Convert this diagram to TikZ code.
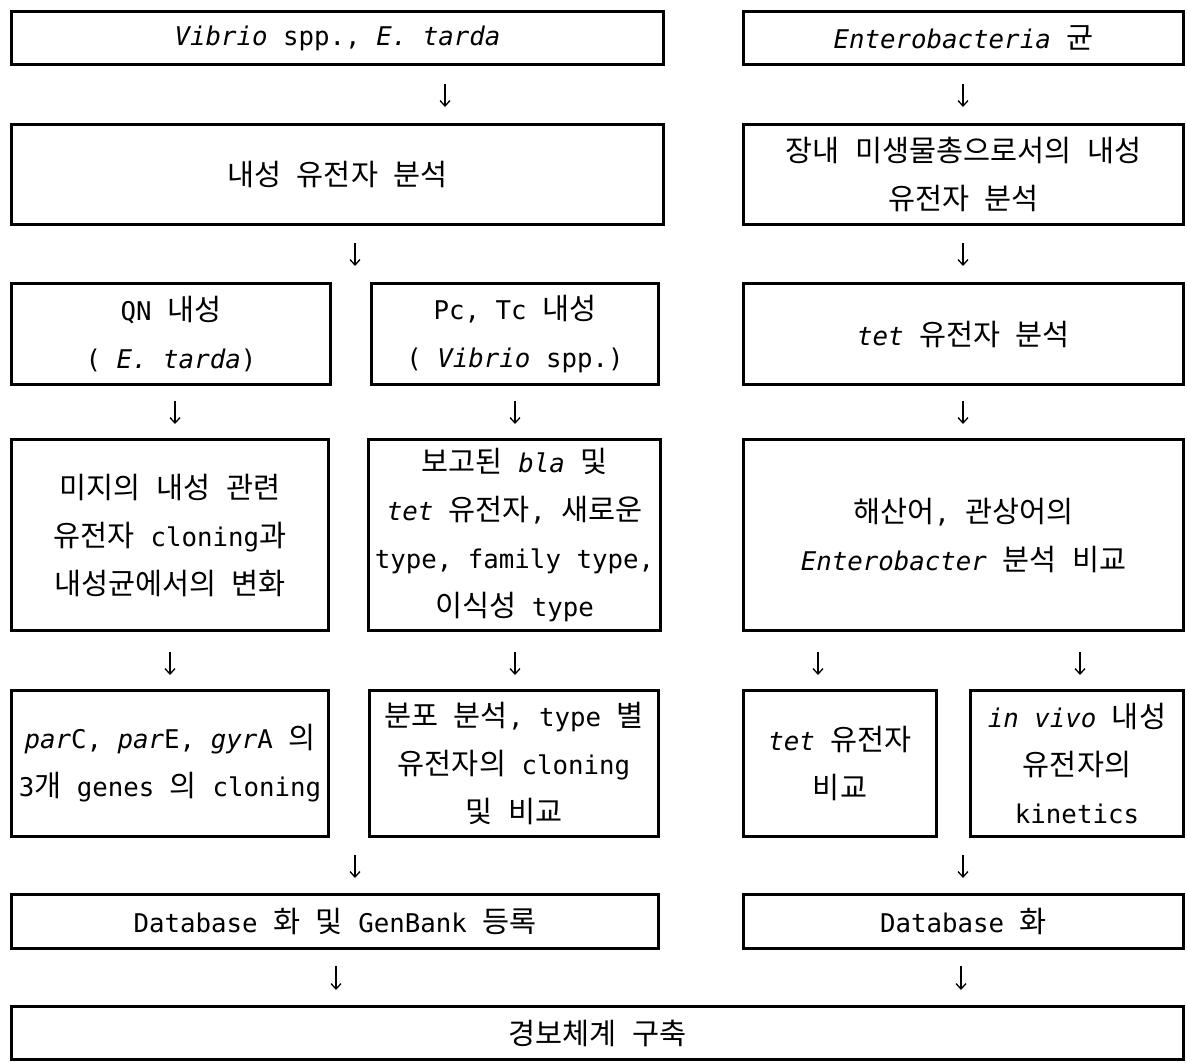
\documentclass[tikz,border=0pt]{standalone}
\usepackage{fontspec}
\setmainfont{DejaVu Sans Mono}[Scale=0.92]
\newfontfamily\krfont{Noto Sans CJK KR}[Scale=1.05]
\usetikzlibrary{arrows.meta}
\XeTeXinterchartokenstate=1
\newXeTeXintercharclass\krcls
\count255="AC00
\loop \XeTeXcharclass\count255=\krcls \ifnum\count255<"D7A3 \advance\count255 by 1 \repeat
\XeTeXinterchartoks 0 \krcls={\krfont}
\XeTeXinterchartoks 4095 \krcls={\krfont}
\XeTeXinterchartoks \krcls 0={\normalfont}
\XeTeXinterchartoks \krcls 4095={\normalfont}
\tikzset{
  box/.style={draw, line width=2.6pt, inner sep=0pt, align=center,
    font=\fontsize{28}{48}\selectfont},
  arr/.style={line width=1.3pt, -{Straight Barb[length=5.5pt,width=10pt]}},
}
\begin{document}
\begin{tikzpicture}[x=1pt,y=-1pt]
\useasboundingbox (0,0) rectangle (1187,1063);
% row 1
\node[box, minimum width=652pt, minimum height=53pt] (v1) at (337.5,38) {\textit{Vibrio} spp., \textit{E. tarda}};
\node[box, minimum width=440pt, minimum height=53pt] (e1) at (963.5,38) {\textit{Enterobacteria} 균};
% row 2
\node[box, minimum width=652pt, minimum height=100pt] (v2) at (337.5,174.5) {내성 유전자 분석};
\node[box, minimum width=440pt, minimum height=100pt] (e2) at (963.5,174.5) {장내 미생물총으로서의 내성\\유전자 분석};
% row 3
\node[box, minimum width=319pt, minimum height=101pt] (q3) at (171,334) {QN 내성\\( \textit{E. tarda})};
\node[box, minimum width=287pt, minimum height=101pt] (p3) at (515,334) {Pc, Tc 내성\\( \textit{Vibrio} spp.)};
\node[box, minimum width=440pt, minimum height=101pt] (t3) at (963.5,334) {\textit{tet} 유전자 분석};
% row 4
\node[box, minimum width=317pt, minimum height=191pt] (m4) at (170,535) {미지의 내성 관련\\유전자 cloning과\\내성균에서의 변화};
\node[box, minimum width=292pt, minimum height=191pt] (b4) at (514.5,535) {보고된 \textit{bla} 및\\\textit{tet} 유전자, 새로운\\type, family type,\\이식성 type};
\node[box, minimum width=440pt, minimum height=191pt] (h4) at (963.5,535) {해산어, 관상어의\\\textit{Enterobacter} 분석 비교};
% row 5
\node[box, minimum width=317pt, minimum height=146pt] (c5) at (170,763.5) {\textit{par}C, \textit{par}E, \textit{gyr}A 의\\3개 genes 의 cloning};
\node[box, minimum width=289pt, minimum height=146pt] (d5) at (514,763.5) {분포 분석, type 별\\유전자의 cloning\\및 비교};
\node[box, minimum width=193pt, minimum height=146pt] (k5) at (840,763.5) {\textit{tet} 유전자\\비교};
\node[box, minimum width=213pt, minimum height=146pt] (n5) at (1077,763.5) {\textit{in vivo} 내성\\유전자의\\kinetics};
% row 6
\node[box, minimum width=647pt, minimum height=54pt] (g6) at (335,921.5) {Database 화 및 GenBank 등록};
\node[box, minimum width=440pt, minimum height=54pt] (d6) at (963.5,921.5) {Database 화};
% row 7
\node[box, minimum width=1172pt, minimum height=53pt] (f7) at (597.5,1033) {경보체계 구축};
% arrows
\coordinate (a1t) at (445,84);  \coordinate (a1b) at (445,107);
\coordinate (a2t) at (963,84);  \coordinate (a2b) at (963,107);
\coordinate (b1t) at (355,243); \coordinate (b1b) at (355,266);
\coordinate (b2t) at (963,243); \coordinate (b2b) at (963,266);
\coordinate (c1t) at (175,401); \coordinate (c1b) at (175,424);
\coordinate (c2t) at (515,401); \coordinate (c2b) at (515,424);
\coordinate (c3t) at (963,401); \coordinate (c3b) at (963,424);
\coordinate (d1t) at (170,652); \coordinate (d1b) at (170,675);
\coordinate (d2t) at (515,652); \coordinate (d2b) at (515,675);
\coordinate (d3t) at (818,652); \coordinate (d3b) at (818,675);
\coordinate (d4t) at (1080,652);\coordinate (d4b) at (1080,675);
\coordinate (e1t) at (355,855); \coordinate (e1b) at (355,878);
\coordinate (e2t) at (963,855); \coordinate (e2b) at (963,878);
\coordinate (f1t) at (336,966); \coordinate (f1b) at (336,990);
\coordinate (f2t) at (961,966); \coordinate (f2b) at (961,990);
\foreach \a in {a1,a2,b1,b2,c1,c2,c3,d1,d2,d3,d4,e1,e2,f1,f2}
  \draw[arr] (\a t) -- (\a b);
\end{tikzpicture}
\end{document}
